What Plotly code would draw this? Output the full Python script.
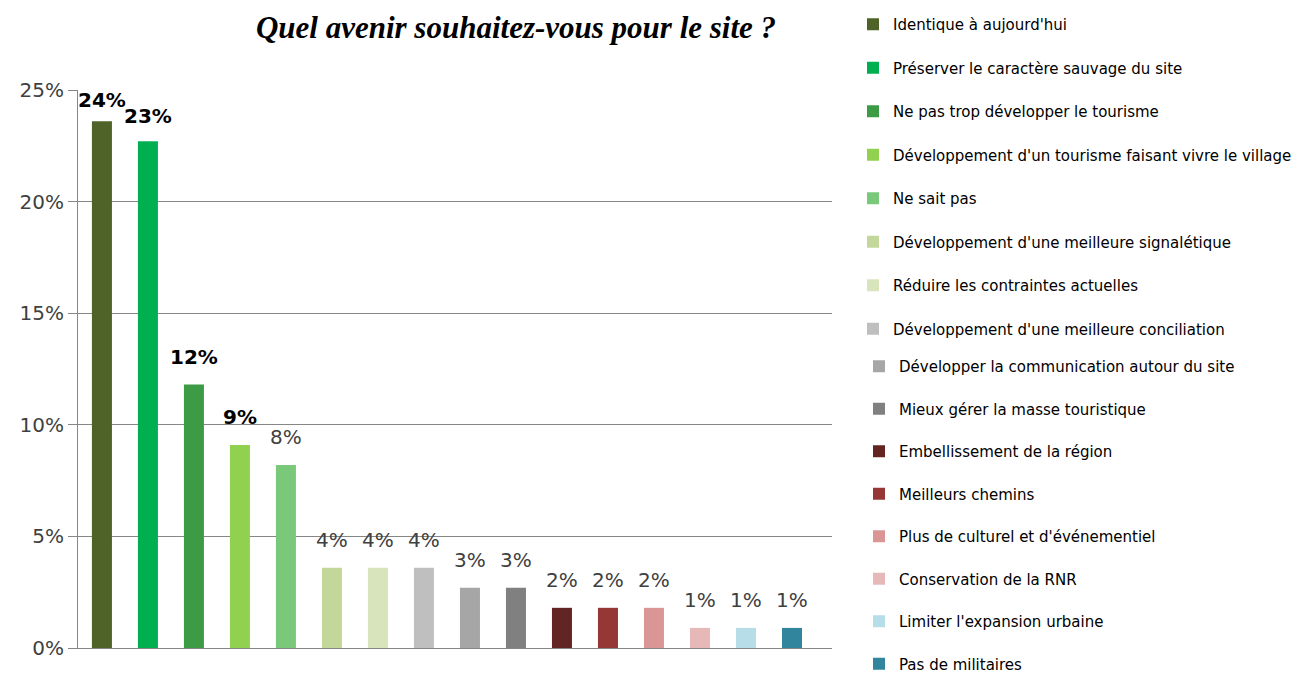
import plotly.graph_objects as go

categories = [
    "Identique à aujourd'hui",
    "Préserver le caractère sauvage du site",
    "Ne pas trop développer le tourisme",
    "Développement d'un tourisme faisant vivre le village",
    "Ne sait pas",
    "Développement d'une meilleure signalétique",
    "Réduire les contraintes actuelles",
    "Développement d'une meilleure conciliation",
    "Développer la communication autour du site",
    "Mieux gérer la masse touristique",
    "Embellissement de la région",
    "Meilleurs chemins",
    "Plus de culturel et d'événementiel",
    "Conservation de la RNR",
    "Limiter l'expansion urbaine",
    "Pas de militaires",
]
shares = [0.236, 0.227, 0.118, 0.091, 0.082, 0.036, 0.036, 0.036,
          0.027, 0.027, 0.018, 0.018, 0.018, 0.009, 0.009, 0.009]
colors = ["#4F6228", "#00B050", "#3D9A45", "#92D050", "#7AC97A", "#C4D79B",
          "#D8E4BC", "#BFBFBF", "#A6A6A6", "#808080", "#632523", "#953735",
          "#DA9694", "#E6B9B8", "#B7DEE8", "#31859C"]
bold_labels = 4  # the first four labels are in bold

# the page body adds an 8px margin, so the figure is 8px smaller than the window
W, H = 1297, 665

fig = go.Figure()
for i, (cat, val, col) in enumerate(zip(categories, shares, colors)):
    bold = i < bold_labels
    fig.add_trace(go.Bar(
        x=[cat], y=[val], name=cat,
        marker=dict(color=col, line_width=0),
        legendgroup=cat,
        legend="legend" if i < 8 else "legend2",
        hoverinfo="skip",
    ))
    # value label above the bar (the tallest ones are squeezed under the top)
    label = f"{val:.0%}"
    shift = 7 if i == 0 else 11 if i == 1 else 14
    fig.add_annotation(x=cat, y=val, text=f"<b>{label}</b>" if bold else label,
                       showarrow=False, yanchor="bottom", yshift=shift,
                       font=dict(size=20, color="#000000" if bold else "#404040"))

legend_font = dict(family="DejaVu Sans, sans-serif", size=15, color="#000000")
fig.update_layout(
    width=W, height=H,
    font=dict(family="DejaVu Sans, sans-serif", color="#404040"),
    paper_bgcolor="white", plot_bgcolor="white",
    margin=dict(l=70, r=W - 824, t=82, b=H - 640),
    barmode="relative", bargap=0.565,
    title=dict(text="<b><i>Quel avenir souhaitez-vous pour le site ?</i></b>",
               font=dict(family="Liberation Serif, Times New Roman, serif",
                         size=31, color="black"),
               x=508 / W, xanchor="center", xref="container",
               y=1 - 19 / H, yanchor="middle", yref="container"),
    legend=dict(xref="container", yref="container", x=845 / W,
                y=1 + 2 / H, xanchor="left", yanchor="top", maxheight=1,
                font=legend_font, tracegroupgap=21,
                itemclick=False, bgcolor="rgba(0,0,0,0)"),
    legend2=dict(xref="container", yref="container", x=851 / W,
                 y=1 - 342 / H, xanchor="left", yanchor="top", maxheight=1,
                 font=legend_font, tracegroupgap=20,
                 itemclick=False, bgcolor="rgba(0,0,0,0)"),
)
fig.update_xaxes(showticklabels=False, showgrid=False, ticks="",
                 range=[-0.52, 15.87],
                 showline=True, linecolor="#868686", linewidth=1)
fig.update_yaxes(range=[0, 0.25], dtick=0.05, tickformat=".0%",
                 showgrid=True, gridcolor="#868686", gridwidth=1,
                 showline=True, linecolor="#868686", linewidth=1,
                 ticks="outside", ticklen=9, tickcolor="#868686",
                 tickfont=dict(size=20, color="#404040"), zeroline=False)

fig.write_html("out.html")
